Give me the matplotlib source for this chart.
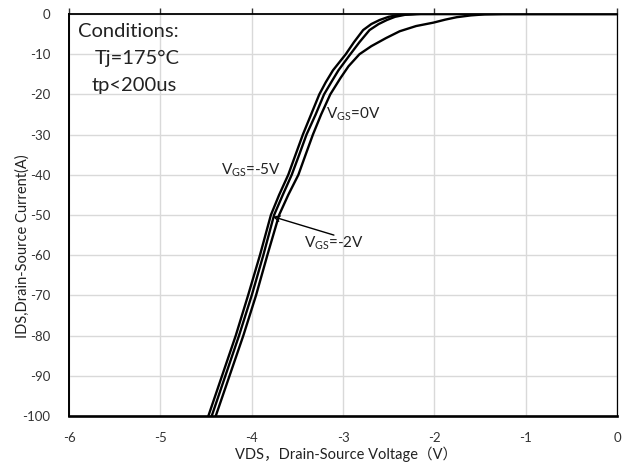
import matplotlib
matplotlib.use('Agg')
import matplotlib.pyplot as plt

plt.rcParams['font.family'] = ['Lato', 'Noto Sans CJK SC', 'DejaVu Sans']
plt.rcParams['mathtext.fontset'] = 'custom'
plt.rcParams['mathtext.rm'] = 'Lato'

# curves: (VDS, IDS)
vds_m5 = [-4.475, -4.175, -4.04, -3.91, -3.79, -3.70, -3.60, -3.52, -3.44, -3.35, -3.26, -3.19, -3.11,
          -2.97, -2.88, -2.78, -2.69, -2.60, -2.50, -2.38, -2.2, 0.0]
ids_m5 = [-100, -80, -70, -60, -50, -45, -40, -35, -30, -25, -20, -17, -14,
          -10, -7, -4, -2.5, -1.5, -0.7, -0.2, 0, 0]

vds_m2 = [-4.438, -4.139, -4.0, -3.873, -3.755, -3.66, -3.562, -3.48, -3.40, -3.30, -3.208, -3.13, -3.05,
          -2.92, -2.82, -2.71, -2.61, -2.52, -2.43, -2.32, -2.15, 0.0]
ids_m2 = [-100, -80, -70, -60, -50, -45, -40, -35, -30, -25, -20, -17, -14,
          -10, -7, -4, -2.5, -1.5, -0.7, -0.2, 0, 0]

vds_0 = [-4.394, -4.092, -3.953, -3.829, -3.70, -3.60, -3.489, -3.41, -3.33, -3.24, -3.14, -3.03, -2.94,
         -2.82, -2.69, -2.53, -2.38, -2.20, -2.01, -1.88, -1.755, -1.60, -1.45, -1.25, 0.0]
ids_0 = [-100, -80, -70, -60, -50, -45, -40, -35, -30, -25, -20, -16, -13,
         -10, -8, -6, -4.3, -3, -2.15, -1.4, -0.8, -0.35, -0.1, 0, 0]

x_ticks = [-6, -5, -4, -3, -2, -1, 0]
y_ticks = list(range(-100, 1, 10))

fig = plt.figure(figsize=(6.28, 4.63), dpi=100)
ax = fig.add_axes([0.110, 0.1015, 0.8725, 0.8683])

for v, i in [(vds_m5, ids_m5), (vds_m2, ids_m2), (vds_0, ids_0)]:
    ax.plot(v, i, color='black', lw=1.7, solid_joinstyle='round')

ax.set_xlim(-6, 0)
ax.set_ylim(-100, 0)
ax.set_xticks(x_ticks)
ax.set_yticks(y_ticks)
ax.set_xticklabels([str(t) for t in x_ticks])
ax.set_yticklabels([str(t) for t in y_ticks])
ax.grid(True, color='#d9d9d9', lw=1.0)
ax.set_axisbelow(True)

ax.tick_params(axis='x', bottom=False, top=True, labelbottom=True, labeltop=False,
               direction='out', length=4, width=1, pad=7.5, labelsize=9.5, colors='#333333')
ax.tick_params(axis='y', left=False, pad=10, labelsize=9.5, labelcolor='#333333')

ax.spines['top'].set_linewidth(1.3)
ax.spines['left'].set_linewidth(1.4)
ax.spines['bottom'].set_linewidth(1.9)
ax.spines['right'].set_linewidth(0.9)

fig.text(0.551, 0.019, 'VDS，Drain-Source Voltage（V）', fontsize=10.5, ha='center', va='center',
         color='#222222')
fig.text(0.036, 0.469, 'IDS,Drain-Source Current(A)', fontsize=10.5, ha='center', va='center',
         rotation=90, color='#222222')

ax.text(-5.9, -4.3, 'Conditions:', fontsize=14.5, va='center', ha='left', color='#222222')
ax.text(-5.72, -11.0, 'Tj=175°C', fontsize=14.5, va='center', ha='left', color='#222222')
ax.text(-5.75, -17.8, 'tp<200us', fontsize=14.5, va='center', ha='left', color='#222222')

lab = dict(fontsize=11, color='#222222', va='center')
ax.text(-3.19, -25.0, r'V$\mathregular{_{GS}}$=0V', ha='left', **lab)
ax.text(-3.68, -38.8, r'V$\mathregular{_{GS}}$=-5V', ha='right', **lab)
ax.text(-3.43, -57.0, r'V$\mathregular{_{GS}}$=-2V', ha='left', **lab)
ax.annotate('', xy=(-3.77, -50.4), xytext=(-3.10, -55.0),
            arrowprops=dict(arrowstyle='->', color='black', lw=1.0, shrinkA=0, shrinkB=0))

fig.savefig('out.png', dpi=100)
